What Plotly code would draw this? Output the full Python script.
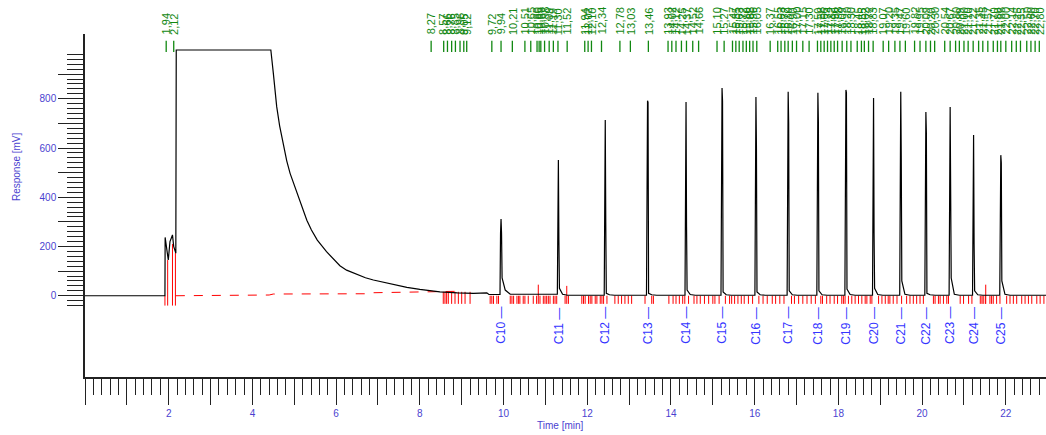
import plotly.graph_objects as go

# ---------------- data ----------------
# solvent / early part of the detector signal (time [min], response [mV])
sig_t = [0, 1.91, 1.915, 1.95, 1.99, 2.03, 2.09, 2.12, 2.17, 2.18, 4.44, 4.50, 4.58,
         4.65, 4.74, 4.82, 4.90, 5.00, 5.10, 5.20, 5.30, 5.41, 5.55, 5.77, 5.95,
         6.09, 6.25, 6.50, 6.70, 6.89, 7.10, 7.29, 7.50, 7.69, 8.00, 8.25, 8.48,
         8.90, 9.28, 9.60, 9.65, 9.90]
sig_v = [0, 0, 237, 186, 145, 220, 247, 199, 173, 998, 998, 903, 768,
         690, 606, 548, 497, 448, 402, 352, 307, 267, 226, 179, 145,
         122, 104, 86, 73, 64, 56, 50, 42, 34, 26, 20, 16,
         12, 10, 12, 5, 5]

# n-alkane peaks
peak_names = ["C10", "C11", "C12", "C13", "C14", "C15", "C16", "C17",
              "C18", "C19", "C20", "C21", "C22", "C23", "C24", "C25"]
peak_t = [9.94, 11.31, 12.43, 13.44, 14.36, 15.22, 16.03, 16.80,
          17.51, 18.18, 18.84, 19.49, 20.09, 20.67, 21.23, 21.88]
peak_apex = [312, 551, 714, 792, 787, 844, 807, 828,
             824, 836, 803, 828, 746, 767, 653, 571]
peak_shoulder = [254, 225, 300, 785, 280, 790, 600, 700,
                 705, 825, 258, 560, 660, 430, 213, 540]
peak_foot = [72, 30, 10, 10, 23, 15, 15, 20,
             20, 27, 30, 60, 10, 72, 20, 60]
peak_tail = [23, 6, 4, 4, 5, 4, 4, 4,
             4, 5, 5, 6, 4, 6, 4, 6]
base_after = [6, 2, 2, 2, 2, 2, 2, 2,
              2, 2, 2, 2, 2, 2, 2, 2]
end_t = 22.96

# red dashed integration baseline
bl_t = [2.17, 4.40, 4.50, 6.70, 6.80, 8.30, 8.90]
bl_v = [0, 3, 7, 8, 12, 17, 18]

# red drop lines in the solvent region (time, top value)
drop_t = [1.91, 1.975, 2.09, 2.16]
drop_top = [0, 145, 210, 175]

# red integration marks (short ticks at the baseline)
mark_t = [8.56, 8.60, 8.64, 8.68, 8.76, 8.84, 8.92, 9.00, 9.08, 9.20,
          9.68, 9.72, 9.76, 9.84, 9.88, 10.16, 10.20, 10.24, 10.32, 10.36,
          10.39, 10.47, 10.51, 10.59, 10.71, 10.79, 10.87, 10.95, 10.99, 11.03,
          11.07, 11.11, 11.19, 11.23, 11.27, 11.47, 11.55, 11.87, 11.91, 11.95,
          12.03, 12.07, 12.11, 12.19, 12.23, 12.31, 12.35, 12.39, 12.47, 12.66,
          12.74, 12.82, 12.90, 12.98, 13.06, 13.38, 13.54, 13.58, 13.95, 14.05,
          14.12, 14.20, 14.28, 14.33, 14.42, 14.55, 14.62, 14.70, 14.80, 14.90,
          15.00, 15.05, 15.15, 15.30, 15.40, 15.45, 15.52, 15.60, 15.68, 15.75,
          15.85, 15.95, 16.10, 16.20, 16.30, 16.42, 16.50, 16.60, 16.70, 16.88,
          16.95, 17.05, 17.15, 17.25, 17.35, 17.45, 17.58, 17.62, 17.72, 17.80,
          17.90, 17.98, 18.08, 18.12, 18.16, 18.24, 18.32, 18.40, 18.48, 18.56,
          18.64, 18.68, 18.76, 18.80, 18.96, 19.04, 19.12, 19.19, 19.23, 19.31,
          19.40, 19.51, 19.63, 19.71, 19.79, 19.87, 19.95, 20.03, 20.27, 20.31,
          20.39, 20.43, 20.51, 20.59, 20.63, 20.91, 20.99, 21.11, 21.19, 21.39,
          21.43, 21.46, 21.51, 21.62, 21.66, 21.70, 21.78, 21.86, 22.02, 22.10,
          22.18, 22.26, 22.38, 22.46, 22.54, 22.62, 22.74, 22.82, 22.91]
tall_t = [10.83, 11.51, 21.52]
tall_top = [45, 40, 45]

# retention-time labels (green, top)
rt_t = [1.94, 2.12, 8.27, 8.57, 8.66, 8.76, 8.85, 8.96, 9.05, 9.12,
        9.72, 9.94, 10.21, 10.51, 10.65, 10.80, 10.85, 10.89, 10.98, 11.09,
        11.19, 11.30, 11.52, 11.94, 12.02, 12.10, 12.34, 12.78, 13.03, 13.46,
        13.93, 14.02, 14.12, 14.25, 14.37, 14.52, 14.66, 15.10, 15.27, 15.47,
        15.55, 15.63, 15.72, 15.80, 15.88, 15.96, 16.05, 16.37, 16.55, 16.63,
        16.72, 16.80, 16.90, 17.00, 17.15, 17.30, 17.50, 17.58, 17.66, 17.74,
        17.82, 17.90, 17.98, 18.09, 18.20, 18.30, 18.45, 18.55, 18.62, 18.72,
        18.83, 19.07, 19.20, 19.35, 19.47, 19.60, 19.82, 19.95, 20.09, 20.20,
        20.30, 20.54, 20.67, 20.80, 20.89, 21.00, 21.10, 21.22, 21.35, 21.45,
        21.57, 21.70, 21.80, 21.88, 22.00, 22.14, 22.25, 22.35, 22.50, 22.60,
        22.70, 22.80]

x_ticks = list(range(0, 23))
x_labels = ["" if v == 0 or v % 2 else str(v) for v in x_ticks]
y_ticks = list(range(0, 1000, 100))
y_labels = [str(v) if v % 200 == 0 else "" for v in y_ticks]
y_minor = [v for v in range(-40, 1000, 20) if v % 100 != 0]
x_minor = [round(i * 0.2, 1) for i in range(0, 115) if i % 5 != 0]

# ---------------- build signal ----------------
tx, ty = list(sig_t), list(sig_v)
for i, t in enumerate(peak_t):
    tx += [t - 0.025, t - 0.012, t, t + 0.012, t + 0.025, t + 0.1, t + 0.22]
    ty += [ty[-1], peak_shoulder[i], peak_apex[i], peak_shoulder[i],
           peak_foot[i], peak_tail[i], base_after[i]]
tx.append(end_t)
ty.append(base_after[-1])

BLUE_AX = "#4a3fd0"
GREEN = "#118811"
RED = "#ff0000"
FONT = "Arial, Liberation Sans, sans-serif"

fig = go.Figure()

# red integration ticks
mx, my = [], []
for t in mark_t:
    base = 16 if t < 9.3 else 0
    mx += [t, t, None]
    my += [base, -33, None]
for t, top in zip(tall_t, tall_top):
    mx += [t, t, None]
    my += [top, -33, None]
for t, top in zip(drop_t, drop_top):
    mx += [t, t, None]
    my += [top, -40, None]
fig.add_trace(go.Scatter(x=mx, y=my, mode="lines", line=dict(color=RED, width=1),
                         hoverinfo="skip", showlegend=False))

# red dashed baseline
fig.add_trace(go.Scatter(x=bl_t, y=bl_v, mode="lines",
                         line=dict(color=RED, width=1, dash="dash"),
                         hoverinfo="skip", showlegend=False))

# signal
fig.add_trace(go.Scatter(x=tx, y=ty, mode="lines", line=dict(color="black", width=1.2),
                         showlegend=False))

# green retention time ticks
gx, gy = [], []
for t in rt_t:
    gx += [t, t, None]
    gy += [990, 1036, None]
fig.add_trace(go.Scatter(x=gx, y=gy, mode="lines", line=dict(color=GREEN, width=1.3),
                         hoverinfo="skip", showlegend=False))

anns = []
for t in rt_t:
    anns.append(dict(x=t, y=1052, xref="x", yref="y", text=f"{t:.2f}".replace(".", ","),
                     textangle=-90, showarrow=False, xanchor="center", yanchor="bottom",
                     font=dict(color=GREEN, size=11, family=FONT)))
for name, t in zip(peak_names, peak_t):
    anns.append(dict(x=t, y=-122, xref="x", yref="y", text=f"{name} \u2014",
                     textangle=-90, showarrow=False, xanchor="center", yanchor="middle",
                     font=dict(color="#3535ff", size=12, family=FONT)))
anns.append(dict(x=-0.0718, y=0.612, xref="paper", yref="paper", text="Response [mV]",
                 textangle=-90, showarrow=False, xanchor="center", yanchor="middle",
                 font=dict(color=BLUE_AX, size=10, family=FONT)))
anns.append(dict(x=0.495, y=-0.14, xref="paper", yref="paper", text="Time [min]",
                 showarrow=False, xanchor="center", yanchor="middle",
                 font=dict(color=BLUE_AX, size=10, family=FONT)))

fig.update_layout(
    width=1046, height=435,
    margin=dict(l=85, r=0, t=34, b=58),
    plot_bgcolor="white", paper_bgcolor="white",
    annotations=anns,
    xaxis=dict(range=[0, end_t], showgrid=False, zeroline=False,
               showline=True, linecolor="#222", linewidth=1.5,
               tickmode="array", tickvals=x_ticks, ticktext=x_labels,
               ticks="outside", ticklen=26, tickwidth=1, tickcolor="#222",
               tickfont=dict(color=BLUE_AX, size=10, family=FONT),
               minor=dict(tickmode="array", tickvals=x_minor, ticks="outside",
                          ticklen=16, tickwidth=1, tickcolor="#222")),
    yaxis=dict(range=[-330, 1063], showgrid=False, zeroline=False,
               showline=True, linecolor="#222", linewidth=1.5,
               tickmode="array", tickvals=y_ticks, ticktext=y_labels,
               ticks="outside", ticklen=25, tickwidth=1, tickcolor="#222",
               tickfont=dict(color=BLUE_AX, size=10, family=FONT),
               minor=dict(tickmode="array", tickvals=y_minor, ticks="outside",
                          ticklen=16, tickwidth=1, tickcolor="#222")),
)

fig.write_html("out.html")
